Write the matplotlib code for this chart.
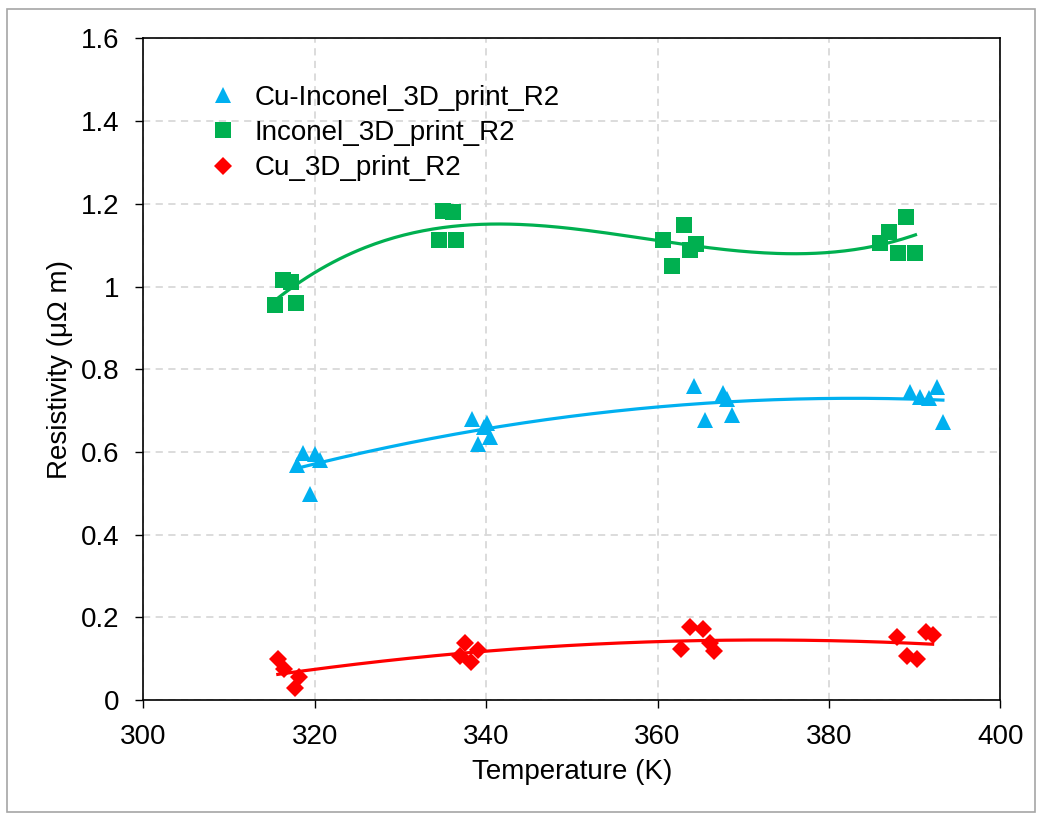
import matplotlib
matplotlib.use("Agg")
import matplotlib.pyplot as plt
import numpy as np
from matplotlib.patches import Rectangle
from matplotlib.ticker import FuncFormatter, MultipleLocator

plt.rcParams['font.family'] = ['Liberation Sans', 'DejaVu Sans']

# Cu-Inconel_3D_print_R2 (blue triangles)
cuin_T = [317.9, 318.6, 320.0, 320.6, 319.4,
          338.4, 339.1, 339.8, 340.5, 340.1,
          364.3, 367.6, 368.1, 365.5, 368.7,
          389.5, 390.6, 391.7, 392.6, 393.3]
cuin_R = [0.568, 0.597, 0.595, 0.581, 0.498,
          0.680, 0.619, 0.660, 0.636, 0.670,
          0.760, 0.743, 0.728, 0.677, 0.689,
          0.745, 0.733, 0.731, 0.757, 0.672]

# Inconel_3D_print_R2 (green squares)
inc_T = [315.4, 316.3, 317.2, 317.8,
         335.0, 336.1, 334.5, 336.5,
         360.6, 363.1, 361.7, 363.8, 364.5,
         386.0, 387.0, 389.0, 388.1, 390.1]
inc_R = [0.955, 1.016, 1.011, 0.960,
         1.183, 1.180, 1.113, 1.113,
         1.113, 1.149, 1.050, 1.088, 1.103,
         1.105, 1.132, 1.168, 1.081, 1.081]

# Cu_3D_print_R2 (red diamonds)
cu_T = [315.7, 316.4, 318.2, 317.7,
        337.0, 337.5, 338.2, 339.0,
        363.8, 365.3, 362.8, 366.1, 366.6,
        388.0, 389.1, 390.3, 391.3, 392.1]
cu_R = [0.099, 0.075, 0.056, 0.029,
        0.106, 0.138, 0.092, 0.121,
        0.177, 0.172, 0.123, 0.138, 0.119,
        0.152, 0.106, 0.099, 0.164, 0.157]

fs = 20

fig = plt.figure(figsize=(10.42, 8.17), dpi=100)
ax = fig.add_axes([0.1375, 0.1432, 0.8225, 0.8097])

series = [
    ('Cu-Inconel_3D_print_R2', cuin_T, cuin_R, '#00B0F0', '^', 12, 2),
    ('Inconel_3D_print_R2', inc_T, inc_R, '#00B050', 's', 12, 3),
    ('Cu_3D_print_R2', cu_T, cu_R, '#FF0000', 'D', 9, 2),
]

for name, T, R, col, mk, ms, deg in series:
    ax.plot(T, R, linestyle='none', marker=mk, markersize=ms, color=col,
            markeredgewidth=0, label=name, zorder=3)
    # polynomial trendline like Excel
    p = np.polyfit(T, R, deg)
    xs = np.linspace(min(T), max(T), 200)
    ax.plot(xs, np.polyval(p, xs), color=col, lw=2.3, zorder=4)

ax.set_xlim(300, 400)
ax.set_ylim(0, 1.6)
ax.xaxis.set_major_locator(MultipleLocator(20))
ax.yaxis.set_major_locator(MultipleLocator(0.2))
ax.yaxis.set_major_formatter(FuncFormatter(lambda v, p: '%g' % round(v, 2)))
ax.tick_params(direction='out', length=6, width=1, labelsize=fs, pad=11)
ax.grid(True, color='#D9D9D9', linestyle=(0, (4, 3)), lw=1.3, zorder=0)
ax.set_axisbelow(True)
for s in ax.spines.values():
    s.set_linewidth(1.2)
    s.set_color('black')

ax.set_xlabel('Temperature (K)', fontsize=fs, labelpad=7)
ax.set_ylabel('Resistivity (μΩ m)', fontsize=fs, labelpad=6)

ax.legend(loc='center left', bbox_to_anchor=(0.0766, 0.857), frameon=False,
          fontsize=fs, handletextpad=0.65, labelspacing=0.33,
          handlelength=1.0, borderaxespad=0, borderpad=0)

fig.patches.append(Rectangle((7 / 1042, 1 - 812 / 817), 1028 / 1042, 803 / 817,
                             transform=fig.transFigure, fill=False,
                             edgecolor='#A6A6A6', lw=1.2))

fig.savefig('out.png', dpi=100)
